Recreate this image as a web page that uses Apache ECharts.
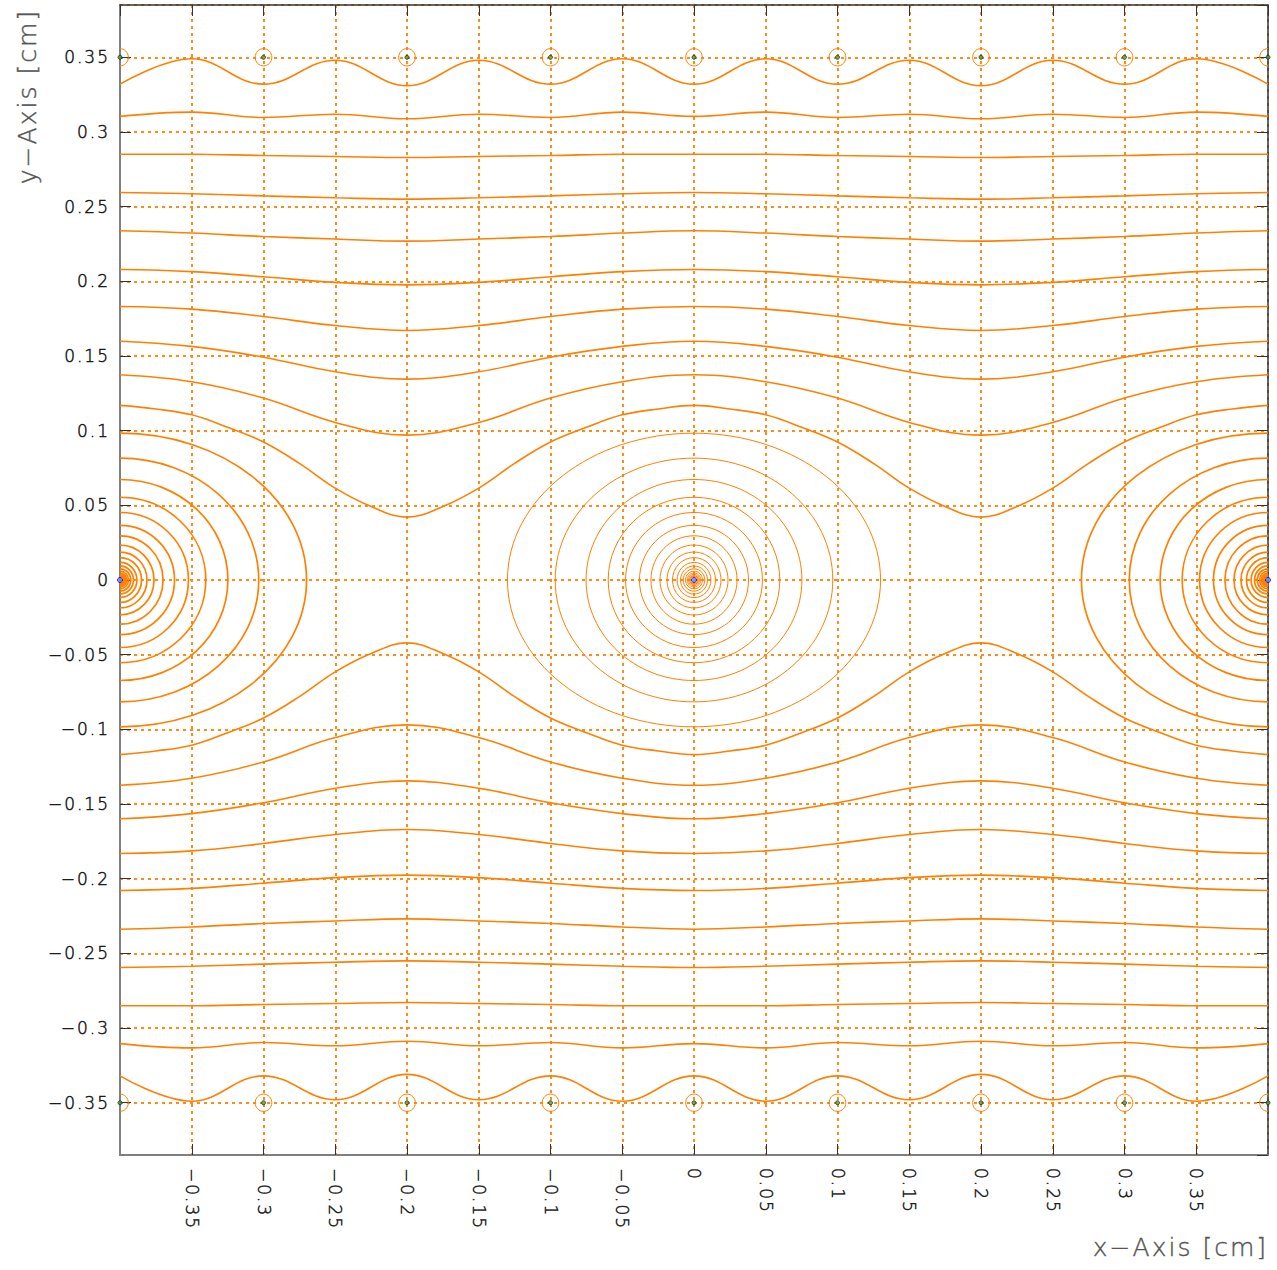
<!DOCTYPE html>
<html>
<head>
<meta charset="utf-8">
<title>Equipotential contours</title>
<script src="https://cdn.jsdelivr.net/npm/echarts@6/dist/echarts.min.js"></script>
<style>
  html, body { margin: 0; padding: 0; background: #ffffff; }
  #chart { width: 1277px; height: 1270px; }
  /* the plotting font is set with wide tracking */
  #chart text { letter-spacing: 2px; }
</style>
</head>
<body>
<div id="chart"></div>
<script>
// Sample abscissae (cm) for the open equipotential lines
const xCoarse = [-0.4, -0.35, -0.3, -0.25, -0.2, -0.15, -0.1, -0.05, 0, 0.05, 0.1, 0.15, 0.2, 0.25, 0.3, 0.35, 0.4];
const xFine = [-0.4, -0.375, -0.35, -0.325, -0.3, -0.275, -0.25, -0.225, -0.2, -0.175, -0.15, -0.125, -0.1, -0.075, -0.05, -0.025,
  0, 0.025, 0.05, 0.075, 0.1, 0.125, 0.15, 0.175, 0.2, 0.225, 0.25, 0.275, 0.3, 0.325, 0.35, 0.375, 0.4];

// Open equipotentials above the anode plane (y in cm at xCoarse / xFine)
const upper1 = [0.332, 0.349, 0.332, 0.348, 0.331, 0.348, 0.332, 0.349, 0.332, 0.349, 0.332, 0.348, 0.331, 0.348, 0.332, 0.349, 0.332];
const upper2 = [0.3104, 0.3133, 0.3097, 0.3119, 0.3088, 0.3119, 0.3097, 0.3133, 0.3104, 0.3133, 0.3097, 0.3119, 0.3088, 0.3119, 0.3097, 0.3133, 0.3104];
const upper3 = [0.2851, 0.2851, 0.2842, 0.2836, 0.2829, 0.2836, 0.2842, 0.2851, 0.2851, 0.2851, 0.2842, 0.2836, 0.2829, 0.2836, 0.2842, 0.2851, 0.2851];
const upper4 = [0.2595, 0.2586, 0.2572, 0.2559, 0.2550, 0.2559, 0.2572, 0.2586, 0.2595, 0.2586, 0.2572, 0.2559, 0.2550, 0.2559, 0.2572, 0.2586, 0.2595];
const upper5 = [0.2338, 0.2323, 0.2300, 0.2283, 0.2269, 0.2283, 0.2300, 0.2323, 0.2338, 0.2323, 0.2300, 0.2283, 0.2269, 0.2283, 0.2300, 0.2323, 0.2338];
const upper6 = [0.2079, 0.2065, 0.2030, 0.1993, 0.1976, 0.1993, 0.2030, 0.2065, 0.2079, 0.2065, 0.2030, 0.1993, 0.1976, 0.1993, 0.2030, 0.2065, 0.2079];
const upper7 = [0.1831, 0.1814, 0.1764, 0.1704, 0.1671, 0.1704, 0.1764, 0.1814, 0.1831, 0.1814, 0.1764, 0.1704, 0.1671, 0.1704, 0.1764, 0.1814, 0.1831];
const upper8 = [0.1599, 0.1564, 0.1492, 0.1394, 0.1345, 0.1394, 0.1492, 0.1564, 0.1599, 0.1564, 0.1492, 0.1394, 0.1345, 0.1394, 0.1492, 0.1564, 0.1599];
const upper9 = [0.1374, 0.1327, 0.1218, 0.1055, 0.0970, 0.1055, 0.1218, 0.1327, 0.1374, 0.1327, 0.1218, 0.1055, 0.0970, 0.1055, 0.1218, 0.1327, 0.1374];
const upper10 = [0.1169, 0.1145, 0.1106, 0.1022, 0.0924, 0.0781, 0.0615, 0.0492, 0.0421, 0.0492, 0.0615, 0.0781, 0.0924, 0.1022, 0.1106, 0.1145,
  0.1169, 0.1145, 0.1106, 0.1022, 0.0924, 0.0781, 0.0615, 0.0492, 0.0421, 0.0492, 0.0615, 0.0781, 0.0924, 0.1022, 0.1106, 0.1145, 0.1169];

// Open equipotentials below the anode plane
const lower1 = [-0.332, -0.349, -0.332, -0.348, -0.331, -0.348, -0.332, -0.349, -0.332, -0.349, -0.332, -0.348, -0.331, -0.348, -0.332, -0.349, -0.332];
const lower2 = [-0.3104, -0.3133, -0.3097, -0.3119, -0.3088, -0.3119, -0.3097, -0.3133, -0.3104, -0.3133, -0.3097, -0.3119, -0.3088, -0.3119, -0.3097, -0.3133, -0.3104];
const lower3 = [-0.2851, -0.2851, -0.2842, -0.2836, -0.2829, -0.2836, -0.2842, -0.2851, -0.2851, -0.2851, -0.2842, -0.2836, -0.2829, -0.2836, -0.2842, -0.2851, -0.2851];
const lower4 = [-0.2595, -0.2586, -0.2572, -0.2559, -0.2550, -0.2559, -0.2572, -0.2586, -0.2595, -0.2586, -0.2572, -0.2559, -0.2550, -0.2559, -0.2572, -0.2586, -0.2595];
const lower5 = [-0.2338, -0.2323, -0.2300, -0.2283, -0.2269, -0.2283, -0.2300, -0.2323, -0.2338, -0.2323, -0.2300, -0.2283, -0.2269, -0.2283, -0.2300, -0.2323, -0.2338];
const lower6 = [-0.2079, -0.2065, -0.2030, -0.1993, -0.1976, -0.1993, -0.2030, -0.2065, -0.2079, -0.2065, -0.2030, -0.1993, -0.1976, -0.1993, -0.2030, -0.2065, -0.2079];
const lower7 = [-0.1831, -0.1814, -0.1764, -0.1704, -0.1671, -0.1704, -0.1764, -0.1814, -0.1831, -0.1814, -0.1764, -0.1704, -0.1671, -0.1704, -0.1764, -0.1814, -0.1831];
const lower8 = [-0.1599, -0.1564, -0.1492, -0.1394, -0.1345, -0.1394, -0.1492, -0.1564, -0.1599, -0.1564, -0.1492, -0.1394, -0.1345, -0.1394, -0.1492, -0.1564, -0.1599];
const lower9 = [-0.1374, -0.1327, -0.1218, -0.1055, -0.0970, -0.1055, -0.1218, -0.1327, -0.1374, -0.1327, -0.1218, -0.1055, -0.0970, -0.1055, -0.1218, -0.1327, -0.1374];
const lower10 = [-0.1169, -0.1145, -0.1106, -0.1022, -0.0924, -0.0781, -0.0615, -0.0492, -0.0421, -0.0492, -0.0615, -0.0781, -0.0924, -0.1022, -0.1106, -0.1145,
  -0.1169, -0.1145, -0.1106, -0.1022, -0.0924, -0.0781, -0.0615, -0.0492, -0.0421, -0.0492, -0.0615, -0.0781, -0.0924, -0.1022, -0.1106, -0.1145, -0.1169];

// Wires: anodes on y = 0, cathodes on y = ±0.35 (cm)
const anodeX = [-0.4, 0, 0.4];
const anodeY = [0];
const cathodeX = [-0.4, -0.3, -0.2, -0.1, 0, 0.1, 0.2, 0.3, 0.4];
const cathodeY = [0.35, -0.35];
const cathodeRing = 0.0058;

// Closed equipotentials around each anode: half-widths and half-heights (cm)
const ringHalfX = [0.1300, 0.0967, 0.0752, 0.0598, 0.0477, 0.0380, 0.0300, 0.0237, 0.0188, 0.0150, 0.0118, 0.0094, 0.0075, 0.0059, 0.0047, 0.0038, 0.0030, 0.0024];
const ringHalfY = [0.0983, 0.0816, 0.0673, 0.0554, 0.0452, 0.0366, 0.0296, 0.0234, 0.0187, 0.0150, 0.0118, 0.0094, 0.0075, 0.0059, 0.0047, 0.0038, 0.0030, 0.0024];

const ORANGE = '#ff8000';
const GRID_DOT = '#ff8c1a';
const MINUS = '\u2212';

function tickText(v) {
  const k = Math.round(v / 0.05);
  if (Math.abs(v - k * 0.05) > 1e-6) return '';
  const s = String(Number((k * 0.05).toFixed(2)));
  return s.replace('-', MINUS);
}

function pairs(xs, ys) {
  return xs.map((x, i) => [x, ys[i]]);
}

const openLines = [
  [xCoarse, upper1], [xCoarse, upper2], [xCoarse, upper3], [xCoarse, upper4], [xCoarse, upper5],
  [xCoarse, upper6], [xCoarse, upper7], [xCoarse, upper8], [xCoarse, upper9], [xFine, upper10],
  [xCoarse, lower1], [xCoarse, lower2], [xCoarse, lower3], [xCoarse, lower4], [xCoarse, lower5],
  [xCoarse, lower6], [xCoarse, lower7], [xCoarse, lower8], [xCoarse, lower9], [xFine, lower10]
];

const lineSeries = openLines.map(([xs, ys]) => ({
  type: 'line',
  data: pairs(xs, ys),
  smooth: 0.4,
  symbol: 'none',
  clip: true,
  silent: true,
  lineStyle: { color: ORANGE, width: 1.6 },
  z: 3
}));

function ringData(centres) {
  const out = [];
  centres.forEach(cx => {
    ringHalfX.forEach((rx, i) => out.push([cx, anodeY[0], rx, ringHalfY[i]]));
  });
  return out;
}

function renderEllipse(lineWidth) {
  return function (params, api) {
    const c = api.coord([api.value(0), api.value(1)]);
    const s = api.size([api.value(2), api.value(3)]);
    return {
      type: 'ellipse',
      shape: { cx: c[0], cy: c[1], rx: s[0], ry: s[1] },
      style: { fill: null, stroke: ORANGE, lineWidth: lineWidth }
    };
  };
}

const cathodeRings = [];
cathodeY.forEach(y => cathodeX.forEach(x => cathodeRings.push([x, y, cathodeRing, cathodeRing])));

const sideAnodes = anodeX.filter(x => x !== 0);
const centreAnodes = anodeX.filter(x => x === 0);

const chart = echarts.init(document.getElementById('chart'), null, { renderer: 'svg' });

const labelFont = {
  fontFamily: 'DejaVu Sans', fontWeight: 200, fontSize: 17, color: '#111111',
  textBorderColor: '#111111', textBorderWidth: 0.45
};
const nameFont = {
  fontFamily: 'DejaVu Sans', fontWeight: 200, fontSize: 25, color: '#555555',
  textBorderColor: '#555555', textBorderWidth: 0.4
};

chart.setOption({
  animation: false,
  backgroundColor: '#ffffff',
  grid: { left: 120, right: 9, top: 5, bottom: 115, containLabel: false, outerBoundsMode: 'none' },
  xAxis: [
    {
      type: 'value', position: 'bottom', min: -0.4, max: 0.4, interval: 0.05,
      name: 'x' + MINUS + 'Axis [cm]', nameLocation: 'end', nameGap: 0,
      nameTextStyle: Object.assign({}, nameFont, { align: 'right', verticalAlign: 'top', padding: [80, 0, 0, 0] }),
      axisLine: { show: true, onZero: false, lineStyle: { color: '#7f7f7f', width: 2 } },
      axisTick: { show: true, inside: true, length: 11, lineStyle: { color: '#333333', width: 1 } },
      axisLabel: Object.assign({}, labelFont, { rotate: -90, margin: 13, formatter: tickText, showMinLabel: false, showMaxLabel: false }),
      splitLine: { show: true, lineStyle: { color: GRID_DOT, width: 2, type: [3, 4] } }
    },
    {
      type: 'value', position: 'top', min: -0.4, max: 0.4, interval: 0.05,
      axisLine: { show: true, onZero: false, lineStyle: { color: '#333333', width: 1.5 } },
      axisTick: { show: true, inside: true, length: 11, lineStyle: { color: '#333333', width: 1 } },
      axisLabel: { show: false },
      splitLine: { show: false }
    }
  ],
  yAxis: [
    {
      type: 'value', position: 'left', min: -0.385, max: 0.385, minInterval: 0.05, maxInterval: 0.05, splitNumber: 15,
      name: 'y' + MINUS + 'Axis [cm]', nameLocation: 'end', nameGap: -4, nameRotate: 90,
      nameTextStyle: Object.assign({}, nameFont, { align: 'right', verticalAlign: 'bottom', padding: [0, 0, 80, 0] }),
      axisLine: { show: true, onZero: false, lineStyle: { color: '#7f7f7f', width: 2 } },
      axisTick: { show: true, inside: true, length: 11, lineStyle: { color: '#333333', width: 1 } },
      axisLabel: Object.assign({}, labelFont, { margin: 10, formatter: tickText, showMinLabel: false, showMaxLabel: false }),
      splitLine: { show: true, lineStyle: { color: GRID_DOT, width: 2, type: [3, 4] } }
    },
    {
      type: 'value', position: 'right', min: -0.385, max: 0.385, minInterval: 0.05, maxInterval: 0.05, splitNumber: 15,
      axisLine: { show: true, onZero: false, lineStyle: { color: '#333333', width: 1.5 } },
      axisTick: { show: true, inside: true, length: 11, lineStyle: { color: '#333333', width: 1 } },
      axisLabel: { show: false },
      splitLine: { show: false }
    }
  ],
  series: lineSeries.concat([
    {
      type: 'custom', name: 'side anode rings', data: ringData(sideAnodes), clip: true, silent: true, z: 3,
      renderItem: renderEllipse(1.7)
    },
    {
      type: 'custom', name: 'centre anode rings', data: ringData(centreAnodes), clip: true, silent: true, z: 3,
      renderItem: renderEllipse(1)
    },
    {
      type: 'custom', name: 'cathode rings', data: cathodeRings, clip: true, silent: true, z: 4,
      renderItem: renderEllipse(1)
    },
    {
      type: 'scatter', name: 'cathodes', silent: true, clip: false, z: 5,
      data: cathodeY.flatMap(y => cathodeX.map(x => [x, y])),
      symbol: 'circle', symbolSize: 4,
      itemStyle: { color: '#4f9a4f', borderColor: '#0b3d0b', borderWidth: 1 }
    },
    {
      type: 'scatter', name: 'anodes', silent: true, clip: false, z: 5,
      data: anodeX.map(x => [x, anodeY[0]]),
      symbol: 'circle', symbolSize: 5,
      itemStyle: { color: '#8c8cff', borderColor: '#0000cc', borderWidth: 1 }
    }
  ])
});
</script>
</body>
</html>
